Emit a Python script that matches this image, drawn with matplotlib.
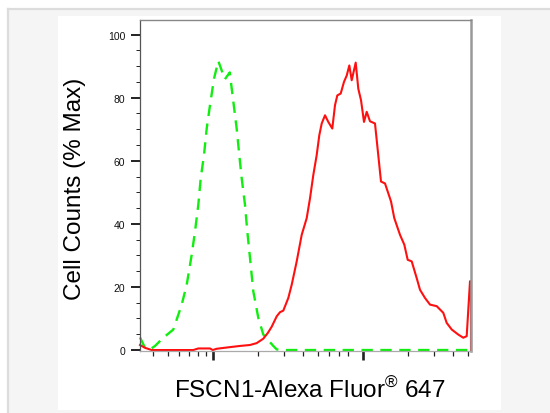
import numpy as np
import matplotlib
matplotlib.use('Agg')
import matplotlib.pyplot as plt
from matplotlib.ticker import FixedLocator, NullFormatter
from matplotlib.patches import Rectangle
from matplotlib.lines import Line2D

plt.rcParams['font.family'] = ['Liberation Sans', 'DejaVu Sans']
plt.rcParams['mathtext.fontset'] = 'custom'
plt.rcParams['mathtext.rm'] = 'Liberation Sans'

# isotype control (green, dashed)
ctrl_x = [327.6, 353.7, 382, 412.5, 468.6, 546.3, 621.6, 671, 724.4, 762.1,
          801.7, 831.8, 874.9, 912, 959.4, 1020, 1090, 1205, 1300, 1330,
          1445, 1504, 1561, 1642, 1701, 1773, 1865, 2014, 2175, 2535,
          2672, 2956, 52720]
ctrl_y = [4.0, 0.7, 0.2, 1.3, 3.9, 6.5, 14.4, 20.7, 30.2, 37.6,
          46, 54.4, 61.8, 70.2, 77.6, 86, 91.6, 85.8, 88, 84,
          70.2, 61.8, 54.4, 46, 37.6, 29.2, 18.6, 10.2, 4.9, 1.3,
          0.2, 0, 0]

# FSCN1 stained sample (red, solid)
fscn_x = [327.6, 353.7, 392, 742.6, 801.7, 959.4, 1000, 1063, 1240, 1521,
          1773, 1965, 2175, 2337, 2474, 2672, 2810, 2956, 3192, 3363,
          3631, 3920, 4233, 4454, 4686, 4935, 5137, 5330, 5607, 5897,
          6270, 6536, 6771, 7133, 7505, 7824, 8143, 8448, 8981, 9348,
          9743, 10202, 10633, 11186, 12078, 13243, 14083, 15443, 16241, 17735,
          18937, 19953, 21216, 22909, 24099, 26022, 28093, 31142, 34452, 36308,
          39215, 43372, 46837, 49352, 51920, 52700, 52700]
fscn_y = [1.6, 0.7, 0, 0, 0.5, 0.5, 0, 0.4, 0.8, 1.3,
          1.6, 2.2, 3.6, 5.5, 7.4, 10.7, 12.0, 12.5, 16.5, 20.7,
          28.1, 36.5, 41.8, 48.1, 55.5, 61.8, 68.1, 71.8, 74.4, 72.3,
          70.2, 77.6, 80.7, 81.3, 85, 87, 90.2, 85.5, 91.1, 82.8,
          79.2, 72.3, 75.5, 72.5, 71.8, 53.4, 52.8, 47.1, 41.8, 36.5,
          33.4, 28.6, 28.1, 22.8, 19.1, 16.5, 14.4, 13.9, 11.8, 8.6,
          6.5, 4.9, 3.9, 4.4, 21.8, 21.8, 0]

x_major = [1000, 10000]
x_minor = [400, 500, 600, 700, 800, 900, 2000, 3000, 4000, 5000, 6000, 7000, 8000,
           20000, 30000, 40000, 50000]

fig = plt.figure(figsize=(5.5, 4.14), dpi=100, facecolor='white')

# page background and white panel
W, H = 550.0, 414.0
fig.patches.append(Rectangle((8 / W, 0), 1, 1 - 10 / H, transform=fig.transFigure,
                             facecolor='#f5f5f5', edgecolor='none', zorder=0))
fig.lines.append(Line2D([8 / W, 1], [1 - 10 / H, 1 - 10 / H], transform=fig.transFigure,
                        color='#dcdcdc', lw=1.6, zorder=1))
fig.lines.append(Line2D([8 / W, 8 / W], [0, 1 - 10 / H], transform=fig.transFigure,
                        color='#dcdcdc', lw=1.6, zorder=1))
fig.patches.append(Rectangle((58 / W, 3 / H), (501 - 58) / W, (411 - 17) / H,
                             transform=fig.transFigure, facecolor='white',
                             edgecolor='none', zorder=1))

ax = fig.add_axes([140 / W, 1 - 352.3 / H, 331 / W, 331.6 / H])
ax.set_zorder(3)
ax.set_facecolor('none')
ax.plot(ctrl_x, ctrl_y, color='#10ee10', lw=1.7, dashes=(4.8, 3.2), clip_on=False)
ax.plot(fscn_x, fscn_y, color='#ff1010', lw=1.5, clip_on=False)

ax.set_xscale('log')
ax.set_xlim(327.6, 52720)
ax.set_ylim(-0.4, 104.7)

ax.xaxis.set_major_locator(FixedLocator(x_major))
ax.xaxis.set_minor_locator(FixedLocator(x_minor))
ax.xaxis.set_major_formatter(NullFormatter())
ax.xaxis.set_minor_formatter(NullFormatter())
ax.set_yticks(np.arange(0, 101, 20))
ax.yaxis.set_minor_locator(FixedLocator(np.arange(0, 101, 5)))
ax.set_yticklabels([str(v) for v in range(0, 101, 20)], fontsize=7.5, color='#111111')

ax.tick_params(axis='x', which='major', length=6.5, width=1.9, color='#222222')
ax.tick_params(axis='x', which='minor', length=3.6, width=0.9, color='#222222')
ax.tick_params(axis='y', which='major', length=6.5, width=1.4, color='#222222', pad=4)
ax.tick_params(axis='y', which='minor', length=3.2, width=0.7, color='#222222')

ax.spines['left'].set_color('#555555')
ax.spines['left'].set_linewidth(0.9)
ax.spines['top'].set_color('#888888')
ax.spines['top'].set_linewidth(1.0)
ax.spines['right'].set_color('#999999')
ax.spines['right'].set_linewidth(1.8)
ax.spines['bottom'].set_color('#aaaaaa')
ax.spines['bottom'].set_linewidth(0.9)

fig.text(75.4 / W, 1 - 189.2 / H, 'Cell Counts (% Max)', rotation=90,
         ha='center', va='center', fontsize=17.5, zorder=4)
fig.text(310 / W, 1 - 398 / H, r'FSCN1-Alexa Fluor$^{®}$ 647',
         ha='center', va='baseline', fontsize=17.5, zorder=4)

fig.savefig('out.png', dpi=100, facecolor=fig.get_facecolor())
